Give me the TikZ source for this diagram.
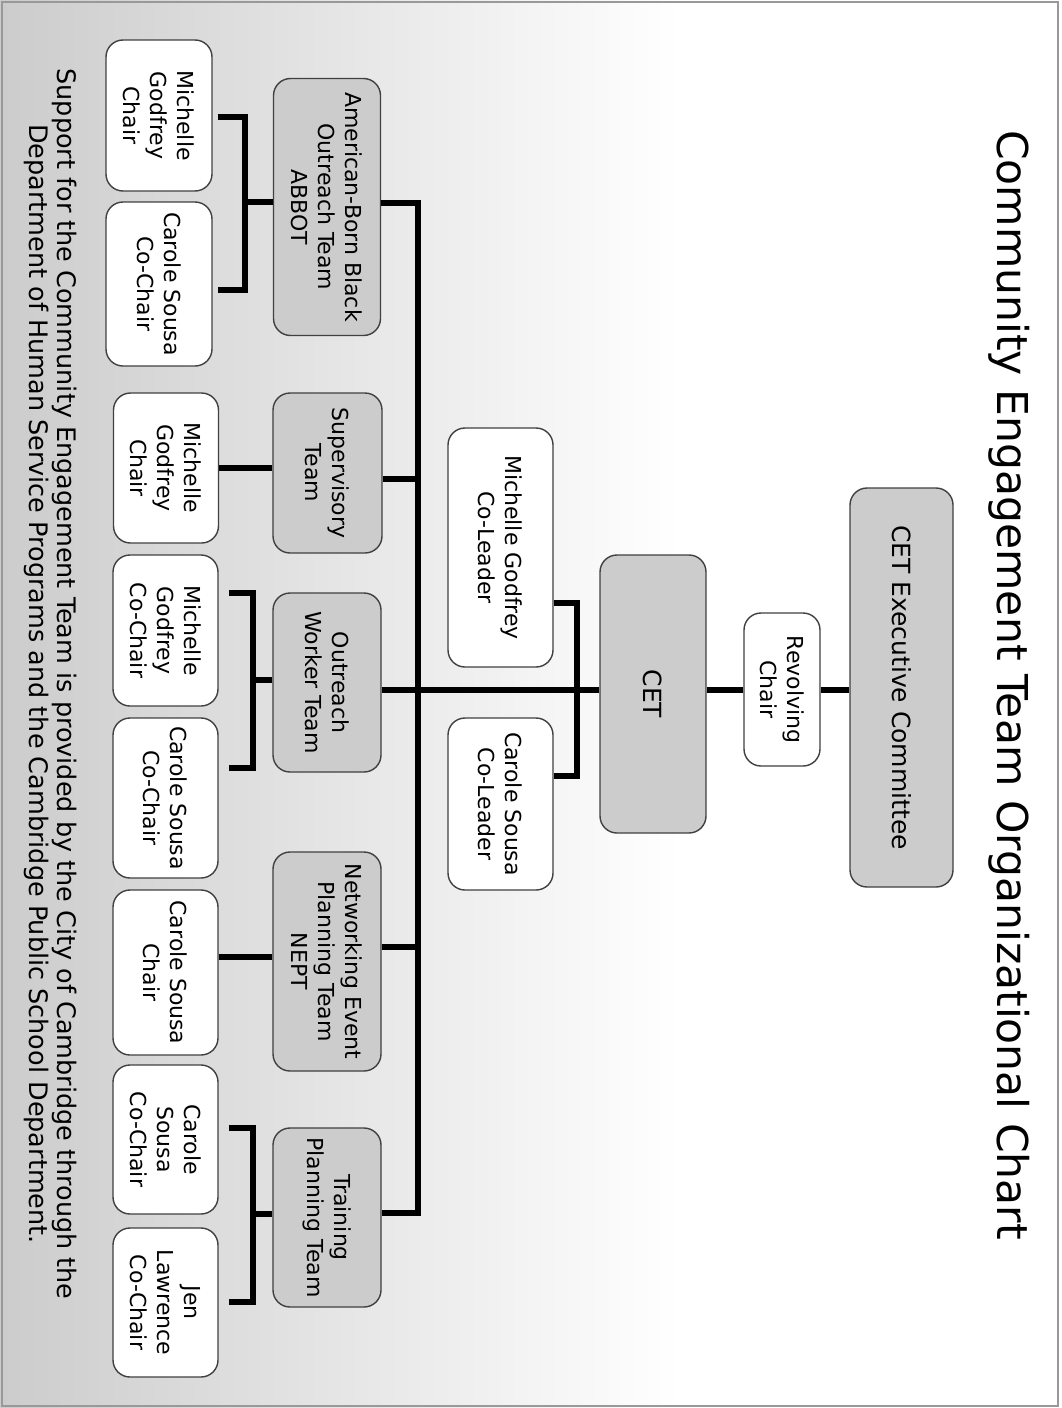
\documentclass[tikz,border=0pt]{standalone}
\usepackage{fontspec}
\setmainfont{DejaVu Sans}
\usetikzlibrary{calc}
\tikzset{
  box/.style={draw=black!75, line width=1.4pt, rounded corners=17pt, align=center,
    inner sep=0pt, rotate=-90, font=\fontsize{22}{27}\selectfont},
  gbox/.style={box, fill=black!20},
  wbox/.style={box, fill=white},
  big/.style={font=\fontsize{25}{30}\selectfont},
  conn/.style={line width=6pt, line join=miter, line cap=butt},
}
\begin{document}
\begin{tikzpicture}[x=1pt,y=1pt]
\useasboundingbox (0,0) rectangle (1062,-1408);
% background
\shade[left color=black!20, right color=white] (0,0) rectangle (680,-1408);
\fill[white] (680,0) rectangle (1062,-1408);
\draw[black!40, line width=2pt] (2,-2) rectangle (1058,-1406);

% title and footer
\node[rotate=-90, anchor=base, inner sep=0pt, font=\fontsize{42.5}{50}\selectfont] (title) at (997,-685)
  {Community Engagement Team Organizational Chart};
\node[rotate=-90, anchor=center, align=center, inner sep=0pt, font=\fontsize{25.5}{28}\selectfont] (foot) at (51,-684)
  {Support for the Community Engagement Team is provided by the City of Cambridge through the\\
   Department of Human Service Programs and the Cambridge Public School Department.};

% top levels
\node[gbox, big, minimum width=399pt, minimum height=103pt] (exec) at (901.5,-687.5) {CET Executive Committee};
\node[wbox, minimum width=153pt, minimum height=76pt] (rev) at (782,-689.5) {Revolving\\Chair};
\node[gbox, big, minimum width=278pt, minimum height=106pt] (cet) at (653,-694) {CET};
\node[wbox, minimum width=239pt, minimum height=105pt] (mgl) at (500.5,-547.5) {Michelle Godfrey\\Co-Leader};
\node[wbox, minimum width=172pt, minimum height=105pt] (csl) at (500.5,-804) {Carole Sousa\\Co-Leader};

% teams
\node[gbox, minimum width=257pt, minimum height=107pt] (abbot) at (327,-207) {American-Born Black\\Outreach Team\\ABBOT};
\node[gbox, minimum width=160pt, minimum height=109pt] (sup) at (327.5,-473) {Supervisory\\Team};
\node[gbox, minimum width=179pt, minimum height=108pt] (ow) at (327,-682.5) {Outreach\\Worker Team};
\node[gbox, minimum width=219pt, minimum height=108pt] (nept) at (327,-961.5) {Networking Event\\Planning Team\\NEPT};
\node[gbox, minimum width=179pt, minimum height=108pt] (train) at (327,-1217.5) {Training\\Planning Team};

% members
\node[wbox, minimum width=151pt, minimum height=106pt] (ab1) at (159,-115.5) {Michelle\\Godfrey\\Chair};
\node[wbox, minimum width=164pt, minimum height=106pt] (ab2) at (159,-284) {Carole Sousa\\Co-Chair};
\node[wbox, minimum width=150pt, minimum height=105pt] (sup1) at (166,-468) {Michelle\\Godfrey\\Chair};
\node[wbox, minimum width=151pt, minimum height=105pt] (ow1) at (165.5,-630.5) {Michelle\\Godfrey\\Co-Chair};
\node[wbox, minimum width=160pt, minimum height=105pt] (ow2) at (165.5,-798) {Carole Sousa\\Co-Chair};
\node[wbox, minimum width=165pt, minimum height=105pt] (nept1) at (165.5,-972.5) {Carole Sousa\\Chair};
\node[wbox, minimum width=149pt, minimum height=105pt] (tr1) at (165.5,-1139.5) {Carole\\Sousa\\Co-Chair};
\node[wbox, minimum width=149pt, minimum height=105pt] (tr2) at (165.5,-1302.5) {Jen\\Lawrence\\Co-Chair};

% junction coordinates
\coordinate (busTop) at (418,-203);
\coordinate (busBot) at (418,-1213);
\coordinate (cline) at (418,-690);
\coordinate (bSup) at (418,-479);
\coordinate (bNept) at (418,-947);
\coordinate (clT) at (577,-603);
\coordinate (clB) at (577,-776);
\coordinate (nLink) at (245,-957);
\coordinate (abT) at (245,-117);
\coordinate (abB) at (245,-290);
\coordinate (abM) at (245,-202);
\coordinate (owT) at (253,-593);
\coordinate (owB) at (253,-768);
\coordinate (owM) at (253,-680);
\coordinate (trT) at (253,-1128);
\coordinate (trB) at (253,-1302);
\coordinate (trM) at (253,-1214);

% connectors
\draw[conn] (exec.south |- cline) -- (rev.north |- cline);
\draw[conn] (rev.south |- cline) -- (cet.north |- cline);
\draw[conn] (cet.south |- cline) -- (ow.north |- cline);
\draw[conn] (mgl.north |- clT) -- (clT) -- (clB) -- (csl.north |- clB);
\draw[conn] (abbot.north |- busTop) -- (busTop) -- (busBot) -- (train.north |- busBot);
\draw[conn] (sup.north |- bSup) -- (bSup);
\draw[conn] (nept.north |- bNept) -- (bNept);
\draw[conn] (sup1.north) -- (sup1.north -| sup.south);
\draw[conn] (nept1.north |- nLink) -- (nept.south |- nLink);
\draw[conn] ($(ab1.north |- abT)+(5,0)$) -- (abT) -- (abB) -- ($(ab2.north |- abB)+(5,0)$);
\draw[conn] (abM) -- (abbot.south |- abM);
\draw[conn] ($(ow1.north |- owT)+(10,0)$) -- (owT) -- (owB) -- ($(ow2.north |- owB)+(10,0)$);
\draw[conn] (owM) -- (ow.south |- owM);
\draw[conn] ($(tr1.north |- trT)+(10,0)$) -- (trT) -- (trB) -- ($(tr2.north |- trB)+(10,0)$);
\draw[conn] (trM) -- (train.south |- trM);
\end{tikzpicture}
\end{document}
